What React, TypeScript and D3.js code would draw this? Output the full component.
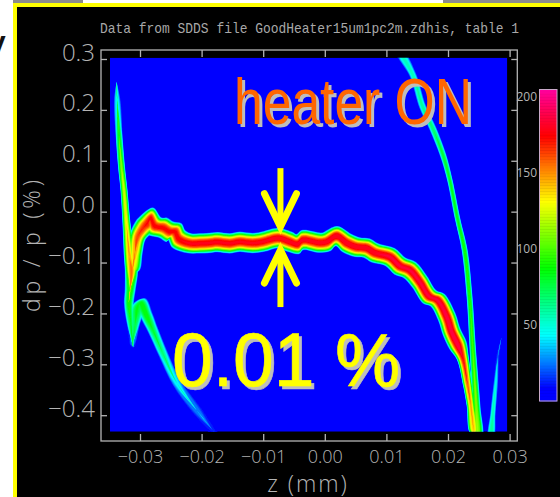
import { useEffect, useRef } from "react";
import * as d3 from "d3";

const title = "Data from SDDS file GoodHeater15um1pc2m.zdhis, table 1";
const zTicks = [-0.03, -0.02, -0.01, 0, 0.01, 0.02, 0.03];
const dpTicks = [-0.4, -0.3, -0.2, -0.1, 0, 0.1, 0.2, 0.3];
const colorTicks = [50, 100, 150, 200];

// colour map of the density bar
const colorStops = [0, 8, 43, 87, 131, 174, 205];
const colorValues = ["#0000ff", "#0000ff", "#00ffff", "#00ff00", "#ffff00", "#ff0000", "#ff00a0"];

// ridge lines: z (mm), dp/p (%), peak density, half width in dp/p
const mainZ = [-0.0312, -0.0308, -0.0304, -0.0295, -0.0289, -0.0283, -0.0276, -0.02625, -0.02516, -0.02435, -0.0237, -0.0219, -0.0203, -0.019, -0.0174, -0.0154, -0.0138, -0.0117, -0.0101, -0.0076, -0.0057, -0.0044, -0.0036, -0.0008, 0.0003, 0.0019, 0.0036, 0.0052, 0.0068, 0.0081, 0.0106, 0.0122, 0.0138, 0.0154, 0.017, 0.0183, 0.0198, 0.0206, 0.0216, 0.0224, 0.0232, 0.0237, 0.0242];
const mainDp = [-0.1148, -0.0794, -0.0499, -0.0322, -0.0244, -0.0126, -0.0283, -0.0317, -0.0395, -0.0395, -0.0539, -0.0623, -0.0623, -0.0617, -0.0598, -0.0623, -0.0592, -0.0617, -0.0592, -0.0519, -0.0592, -0.0637, -0.0558, -0.0611, -0.0592, -0.048, -0.0617, -0.0696, -0.0716, -0.0808, -0.0893, -0.107, -0.1148, -0.1378, -0.1673, -0.1738, -0.2066, -0.2367, -0.2623, -0.2878, -0.3409, -0.3803, -0.4333];
const mainPeak = [130, 150, 165, 170, 175, 178, 178, 178, 178, 178, 180, 182, 182, 182, 182, 182, 182, 182, 182, 184, 184, 184, 184, 184, 184, 186, 186, 186, 186, 186, 188, 188, 188, 188, 188, 188, 190, 190, 190, 175, 160, 150, 140];
const mainSpread = [0.0138, 0.016, 0.0177, 0.021, 0.022, 0.0226, 0.0226, 0.0226, 0.0226, 0.0226, 0.0226, 0.021, 0.021, 0.021, 0.021, 0.021, 0.021, 0.021, 0.021, 0.021, 0.021, 0.021, 0.021, 0.021, 0.021, 0.021, 0.021, 0.021, 0.021, 0.021, 0.021, 0.021, 0.021, 0.0195, 0.0195, 0.0195, 0.0195, 0.0195, 0.0195, 0.0128, 0.0098, 0.0088, 0.008];

const leftZ = [-0.0338, -0.0337, -0.0334, -0.033, -0.0326, -0.0322, -0.0317, -0.0314, -0.0316, -0.0318, -0.0315, -0.0311];
const leftDp = [0.2548, 0.2194, 0.1506, 0.0877, 0.0425, -0.0224, -0.0893, -0.1148, -0.1541, -0.1797, -0.219, -0.2662];
const leftPeak = [12, 50, 88, 112, 125, 135, 150, 158, 100, 92, 80, 18];
const leftSpread = [0.005, 0.0075, 0.0075, 0.0075, 0.0075, 0.0085, 0.0118, 0.0138, 0.0118, 0.0108, 0.0088, 0.005];

const lowerZ = [-0.03125, -0.0308, -0.0304, -0.0299, -0.0289, -0.0279, -0.0263, -0.024, -0.0208, -0.0182, -0.0172];
const lowerDp = [-0.2623, -0.223, -0.1875, -0.1797, -0.2053, -0.2328, -0.278, -0.337, -0.3901, -0.4294, -0.445];
const lowerPeak = [30, 78, 86, 90, 90, 80, 68, 48, 30, 14, 6];
const lowerSpread = [0.005, 0.0098, 0.0138, 0.0148, 0.0138, 0.0118, 0.0108, 0.0108, 0.0118, 0.0108, 0.008];

const rightZ = [0.0122, 0.0143, 0.0159, 0.0175, 0.0192, 0.0203, 0.0216, 0.0227, 0.0235, 0.024, 0.0246, 0.0248];
const rightDp = [0.3138, 0.2686, 0.2057, 0.1644, 0.1113, 0.0621, -0.0165, -0.0755, -0.1679, -0.2662, -0.3841, -0.4411];
const rightPeak = [55, 60, 65, 72, 82, 85, 88, 92, 95, 100, 112, 115];
const rightSpread = [0.0079, 0.0079, 0.0079, 0.0079, 0.007, 0.006, 0.006, 0.0065, 0.0065, 0.007, 0.009, 0.0098];

const faintZ = [0.0287, 0.0281, 0.0278, 0.0273, 0.027];
const faintDp = [-0.2465, -0.2858, -0.331, -0.3959, -0.4411];
const faintPeak = [9, 20, 45, 60, 65];
const faintSpread = [0.004, 0.005, 0.005, 0.006, 0.006];

const ridges = [
  { z: faintZ, dp: faintDp, peak: faintPeak, spread: faintSpread },
  { z: lowerZ, dp: lowerDp, peak: lowerPeak, spread: lowerSpread },
  { z: rightZ, dp: rightDp, peak: rightPeak, spread: rightSpread },
  { z: leftZ, dp: leftDp, peak: leftPeak, spread: leftSpread },
  { z: mainZ, dp: mainDp, peak: mainPeak, spread: mainSpread },
];

const arrowZ = -0.0072;
const arrowTop = { tail: 0.0855, tip: -0.0295 };
const arrowBottom = { tail: -0.1875, tip: -0.0755 };

const levels = d3.range(6, 204, 6);
const grey = "#b4b4b4";
const tickFont = "'Open Sans', sans-serif";

const x = d3.scaleLinear().domain([-0.03, 0.03]).range([140, 509.6]);
const y = d3.scaleLinear().domain([-0.4, 0.3]).range([415.2, 59]);
const barY = d3.scaleLinear().domain([0, 205]).range([401, 89.5]);
const color = d3.scaleLinear<string>().domain(colorStops).range(colorValues);

const closedLine = d3.line().curve(d3.curveCatmullRomClosed);

// outline of one density level around a ridge, thicker where the peak is higher
function ridgePath(r: any, level: number) {
  const scale = y(0) - y(0.001);
  const pts = r.z.map((z: number, i: number) => [x(z), y(r.dp[i])]);
  const left: [number, number][] = [];
  const right: [number, number][] = [];
  pts.forEach((p: number[], i: number) => {
    const a = pts[Math.max(i - 1, 0)];
    const b = pts[Math.min(i + 1, pts.length - 1)];
    const len = Math.hypot(b[0] - a[0], b[1] - a[1]) || 1;
    const nx = -(b[1] - a[1]) / len;
    const ny = (b[0] - a[0]) / len;
    const w = r.peak[i] > level ? (r.spread[i] * 1000 * scale) * Math.sqrt(1 - level / r.peak[i]) : 0;
    left.push([p[0] + nx * w, p[1] + ny * w]);
    right.push([p[0] - nx * w, p[1] - ny * w]);
  });
  return closedLine([...left, ...right.reverse()]);
}

export default function App() {
  const ref = useRef<SVGSVGElement>(null);

  useEffect(() => {
    const svg = d3.select(ref.current);
    svg.selectAll("*").remove();

    const defs = svg.append("defs");
    defs.append("clipPath").attr("id", "plot").append("rect")
      .attr("x", 110).attr("y", 57.7).attr("width", 397.3).attr("height", 374);
    defs.append("filter").attr("id", "soft").attr("x", "-5%").attr("y", "-5%").attr("width", "110%").attr("height", "110%")
      .append("feGaussianBlur").attr("stdDeviation", 0.45);

    // page pieces around the slide
    svg.append("rect").attr("x", 13).attr("y", 0).attr("width", 70).attr("height", 3).attr("fill", "#8c8c8c");
    svg.append("rect").attr("x", 443).attr("y", 0).attr("width", 117).attr("height", 3).attr("fill", "#8c8c8c");
    svg.append("rect").attr("x", 13).attr("y", 3).attr("width", 547).attr("height", 494).attr("fill", "#ffff00");
    svg.append("rect").attr("x", 17).attr("y", 7).attr("width", 543).attr("height", 490).attr("fill", "#000");
    svg.append("text").attr("x", -11).attr("y", 52).attr("font-family", "Liberation Sans").attr("font-weight", 700)
      .attr("font-size", 30).attr("fill", "#111").text("y");

    // heat map
    const plot = svg.append("g").attr("clip-path", "url(#plot)");
    plot.append("rect").attr("x", 110).attr("y", 57.7).attr("width", 397.3).attr("height", 374).attr("fill", "#0000ff");
    const heat = plot.append("g").attr("filter", "url(#soft)");
    levels.forEach(level => {
      ridges.forEach(r => {
        if (d3.max(r.peak)! > level) {
          heat.append("path").attr("d", ridgePath(r, level)).attr("fill", color(level));
        }
      });
    });

    // frame and ticks
    svg.append("rect").attr("x", 101).attr("y", 50).attr("width", 416.3).attr("height", 391)
      .attr("fill", "none").attr("stroke", grey).attr("stroke-width", 1.3);

    const styleAxis = (g: any, size: number) => {
      g.select(".domain").remove();
      g.selectAll("line").attr("stroke", grey).attr("stroke-width", 1.3);
      g.selectAll("text").attr("fill", grey).attr("font-family", tickFont).attr("font-size", size).attr("font-weight", 300);
    };
    const bare = (g: any) => {
      g.select(".domain").remove();
      g.selectAll("text").remove();
      g.selectAll("line").attr("stroke", grey).attr("stroke-width", 1.3);
    };

    svg.append("g").attr("transform", "translate(0,441)")
      .call(d3.axisBottom(x).tickValues(zTicks).tickSize(-7).tickPadding(9).tickFormat(d3.format(".2f") as any))
      .call(styleAxis, 18);
    svg.append("g").attr("transform", "translate(0,50)")
      .call(d3.axisTop(x).tickValues(zTicks).tickSize(-7))
      .call(bare);
    svg.append("g").attr("transform", "translate(101,0)")
      .call(d3.axisLeft(y).tickValues(dpTicks).tickSize(-6).tickPadding(6).tickFormat(d3.format(".1f") as any))
      .call(styleAxis, 24)
      .call((g: any) => g.selectAll("text").attr("dy", 1));
    svg.append("g").attr("transform", "translate(517.3,0)")
      .call(d3.axisRight(y).tickValues(dpTicks).tickSize(-6))
      .call(bare);

    // titles
    svg.append("text").attr("x", 100).attr("y", 32.5).attr("textLength", 419).attr("lengthAdjust", "spacingAndGlyphs")
      .attr("font-family", "'Liberation Mono'").attr("font-size", 15).attr("fill", "#a8a8a8").text(title);
    svg.append("text").attr("x", 308).attr("y", 491.5).attr("text-anchor", "middle").attr("font-family", tickFont)
      .attr("font-weight", 300).attr("font-size", 23).attr("letter-spacing", 2).attr("fill", grey).text("z (mm)");
    svg.append("text").attr("transform", "translate(40,246) rotate(-90)").attr("text-anchor", "middle").attr("font-family", tickFont)
      .attr("font-weight", 300).attr("font-size", 23).attr("textLength", 132).attr("fill", grey).text("dp / p (%)");

    // colour bar
    const bar = svg.append("g");
    d3.range(0, 205).forEach(v => {
      bar.append("rect").attr("x", 539.5).attr("width", 17.5).attr("y", barY(v + 1)).attr("height", barY(v) - barY(v + 1) + 0.5).attr("fill", color(v));
    });
    bar.append("rect").attr("x", 539.5).attr("y", barY(205)).attr("width", 17.5).attr("height", barY(0) - barY(205))
      .attr("fill", "none").attr("stroke", "#c8a8c8");
    colorTicks.forEach(t => {
      bar.append("text").attr("x", 537).attr("y", barY(t)).attr("dy", 3.5).attr("text-anchor", "end").attr("font-family", tickFont)
        .attr("font-size", 12).attr("fill", grey).text(t);
    });

    // overlay text with drop shadow
    const overlay = (s: string, px: number, py: number, size: number, len: number, fill: string, extra: number) => {
      [["#bdbdbd", 3, 2.5], [fill, 0, 0]].forEach(([c, dx, dy]: any) => {
        svg.append("text").attr("x", px + dx).attr("y", py + dy).attr("font-family", "Liberation Sans").attr("font-size", size)
          .attr("textLength", len).attr("lengthAdjust", "spacingAndGlyphs").attr("fill", c).attr("stroke", c).attr("stroke-width", extra).text(s);
      });
    };
    overlay("heater ON", 234, 124, 65, 238, "#ff6600", 0);
    overlay("0.01 %", 172, 386, 76, 228, "#ffff00", 0.6);

    // arrows marking the energy spread
    const arrow = (tail: number, tip: number) => {
      const sign = tip < tail ? -1 : 1;
      svg.append("line").attr("x1", x(arrowZ)).attr("x2", x(arrowZ)).attr("y1", y(tail)).attr("y2", y(tip))
        .attr("stroke", "#ffff00").attr("stroke-width", 6);
      const wings = d3.path();
      wings.moveTo(x(arrowZ) - 16, y(tip) + sign * 33);
      wings.lineTo(x(arrowZ), y(tip));
      wings.lineTo(x(arrowZ) + 16, y(tip) + sign * 33);
      svg.append("path").attr("d", wings.toString()).attr("fill", "none").attr("stroke", "#ffff00")
        .attr("stroke-width", 7).attr("stroke-linecap", "round").attr("stroke-miterlimit", 10);
    };
    arrow(arrowTop.tail, arrowTop.tip);
    arrow(arrowBottom.tail, arrowBottom.tip);
  }, []);

  return <svg ref={ref} width={560} height={497} style={{ position: "absolute", left: 0, top: 0, background: "#fff" }} />;
}
